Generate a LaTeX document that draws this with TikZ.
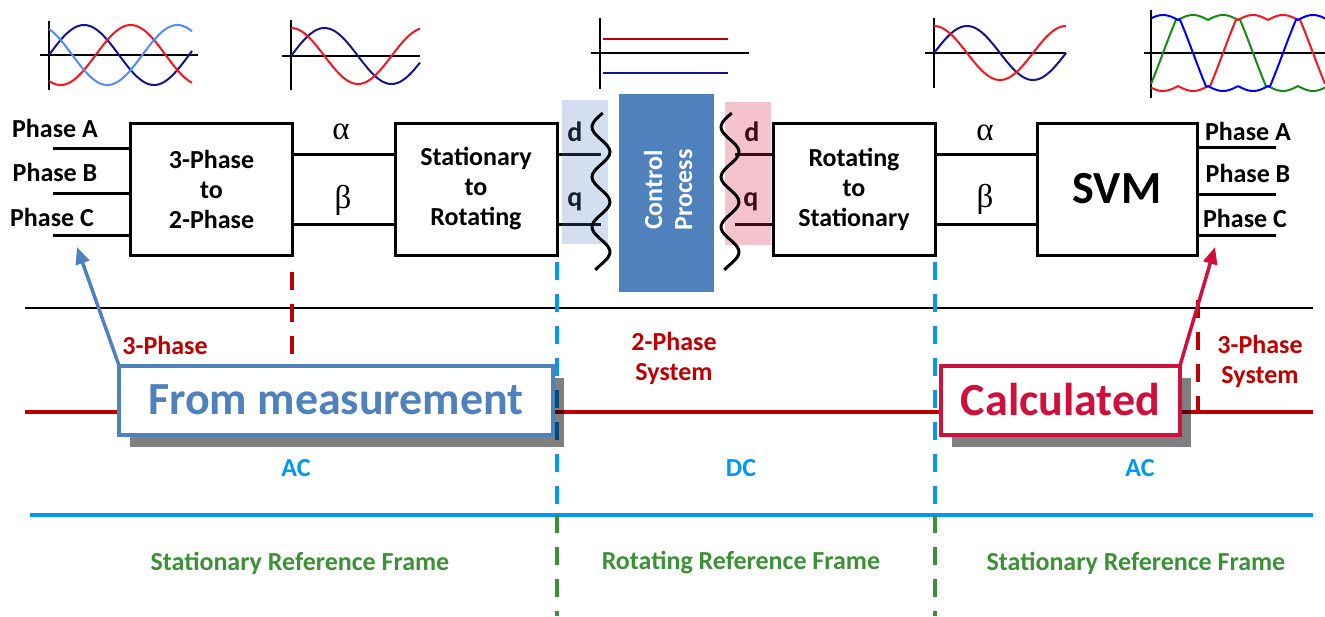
\documentclass[tikz,border=0pt]{standalone}
\usepackage{fontspec}
\setmainfont{Carlito}
\newfontfamily\grkfont{Liberation Serif}
\usetikzlibrary{arrows.meta,shadows}

\definecolor{measblue}{RGB}{79,129,189}
\definecolor{calcred}{RGB}{208,16,60}
\definecolor{sysred}{RGB}{192,0,0}
\definecolor{acblue}{RGB}{0,153,240}
\definecolor{framegreen}{RGB}{60,145,55}
\definecolor{navywave}{RGB}{20,20,140}
\definecolor{lightwave}{RGB}{80,140,255}
\definecolor{redwave}{RGB}{250,20,30}
\definecolor{greenwave}{RGB}{20,140,20}
\definecolor{pinkfill}{RGB}{215,40,80}

\tikzset{
  blk/.style={draw, line width=3pt, outer sep=0pt, minimum width=162pt, minimum height=132pt, align=center, font=\fontsize{26}{30}\selectfont\bfseries},
  wire/.style={line width=3pt},
  lbl/.style={font=\fontsize{26}{30}\selectfont\bfseries, inner sep=0pt, align=center},
  greek/.style={font=\fontsize{33}{36}\grkfont, inner sep=0pt},
  axis/.style={line width=2.5pt},
  wave/.style={line width=2pt, smooth},
  svmwave/.style={line width=2pt},
  callout/.style={draw, line width=4pt, fill=white, outer sep=0pt, minimum height=69pt, font=\fontsize{46}{50}\selectfont\bfseries, drop shadow={shadow xshift=11pt, shadow yshift=-12pt, fill=black, opacity=0.5}},
  divider/.style={line width=3.5pt, dash pattern=on 18pt off 14pt},
}

\begin{document}
\begin{tikzpicture}[x=1pt, y=-1pt]
  \useasboundingbox (0,0) rectangle (1325,616);

  % waveforms on top
  \draw[axis] (49,21) -- (49,90);
  \draw[axis] (40,55) -- (198,55);
  \draw[wave, navywave] plot[domain=0:143, samples=60] ({49+\x},{55-30*sin(\x*2.5714)});
  \draw[wave, redwave] plot[domain=0:143, samples=60] ({49+\x},{55-30*sin(\x*2.5714-120)});
  \draw[wave, lightwave] plot[domain=0:143, samples=60] ({49+\x},{55-30*sin(\x*2.5714+120)});

  \draw[axis] (291,20) -- (291,90);
  \draw[axis] (282,56) -- (420,56);
  \draw[wave, navywave] plot[domain=0:129, samples=60] ({291+\x},{56-28*sin(\x*2.6866)});
  \draw[wave, redwave] plot[domain=0:129, samples=60] ({291+\x},{56-28*cos(\x*2.6866)});

  \draw[axis] (600,18) -- (600,89);
  \draw[axis] (591,53) -- (749,53);
  \draw[wave, sysred] (603,39) -- (728,39);
  \draw[wave, navywave] (603,73) -- (728,73);

  \draw[axis] (934,18) -- (934,88);
  \draw[axis] (925,53) -- (1066,53);
  \draw[wave, navywave] plot[domain=0:132, samples=60] ({934+\x},{53-27*sin(\x*2.7273)});
  \draw[wave, redwave] plot[domain=0:132, samples=60] ({934+\x},{53-27*cos(\x*2.7273)});

  \draw[axis] (1151,10) -- (1151,98);
  \draw[axis] (1144,53) -- (1325,53);
  \draw[svmwave, greenwave] plot[domain=1151:1325, samples=220] (\x,{53-38*max(-0.87-0.13*abs(cos(6*(\x-1163))), min(0.87+0.13*abs(cos(6*(\x-1163))), 2*sin(2*(\x-1163))))});
  \draw[svmwave, redwave] plot[domain=1151:1325, samples=220] (\x,{53-38*max(-0.87-0.13*abs(cos(6*(\x-1223))), min(0.87+0.13*abs(cos(6*(\x-1223))), 2*sin(2*(\x-1223))))});
  \draw[svmwave, blue] plot[domain=1151:1325, samples=220] (\x,{53-38*max(-0.87-0.13*abs(cos(6*(\x-1283))), min(0.87+0.13*abs(cos(6*(\x-1283))), 2*sin(2*(\x-1283))))});

  % blocks
  \node[blk] (tp) at (211.5,189) {3-Phase\\to\\2-Phase};
  \node[blk] (sr) at (476,189) {Stationary\\to\\Rotating};
  \node[blk, fill=measblue, draw=none, minimum width=95pt, minimum height=198pt] (ctrl) at (666.5,193) {};
  \node[lbl, text=white, rotate=90] (ctrltxt) at (668,190) {Control\\Process};
  \node[blk] (rs) at (854,189) {Rotating\\to\\Stationary};
  \node[blk, minimum width=160pt, font=\fontsize{46}{50}\selectfont\bfseries] (svm) at (1117,189) {SVM};

  % phase inputs and outputs
  \node[lbl] (pa) at (55,128) {Phase A};
  \node[lbl] (pb) at (55,172) {Phase B};
  \node[lbl] (pc) at (52,217) {Phase C};
  \draw[wire] ([yshift=41pt]tp.west) -- ++(-78,0);
  \draw[wire] ([yshift=-4pt]tp.west) -- ++(-78,0);
  \draw[wire] ([yshift=-46pt]tp.west) -- ++(-78,0);
  \node[lbl] (oa) at (1248,131) {Phase A};
  \node[lbl] (ob) at (1248,173) {Phase B};
  \node[lbl] (oc) at (1245,218) {Phase C};
  \draw[wire] ([yshift=42pt]svm.east) -- ++(79,0);
  \draw[wire] ([yshift=-5pt]svm.east) -- ++(79,0);
  \draw[wire] ([yshift=-46pt]svm.east) -- ++(79,0);

  % alpha beta links
  \draw[wire] ([yshift=35pt]tp.east) -- ([yshift=35pt]sr.west);
  \draw[wire] ([yshift=-35pt]tp.east) -- ([yshift=-35pt]sr.west);
  \node[greek] (al1) at (341,132) {α};
  \node[greek] (be1) at (343,200) {β};
  \draw[wire] ([yshift=35pt]rs.east) -- ([yshift=35pt]svm.west);
  \draw[wire] ([yshift=-35pt]rs.east) -- ([yshift=-35pt]svm.west);
  \node[greek] (al2) at (985,133) {α};
  \node[greek] (be2) at (985,199) {β};

  % d q links
  \draw[wire] ([yshift=35pt]sr.east) -- ++(44,0);
  \draw[wire] ([yshift=-35pt]sr.east) -- ++(44,0);
  \draw[wire] ([yshift=35pt]rs.west) -- ++(-38,0);
  \draw[wire] ([yshift=-35pt]rs.west) -- ++(-38,0);
  \node[lbl, font=\fontsize{28}{30}\selectfont\bfseries] (d1) at (575,132) {d};
  \node[lbl, font=\fontsize{28}{30}\selectfont\bfseries] (q1) at (575,202) {q};
  \node[lbl, font=\fontsize{28}{30}\selectfont\bfseries] (d2) at (752,132) {d};
  \node[lbl, font=\fontsize{28}{30}\selectfont\bfseries] (q2) at (751,202) {q};
  \fill[measblue, opacity=0.25] (562,100) rectangle (608,244);
  \fill[pinkfill, opacity=0.28] (725,102) rectangle (771,245);
  \draw[wire, smooth] plot[domain=113:270, samples=50] ({601+9*sin((\x-113)*7.2+169)},\x);
  \draw[wire, smooth] plot[domain=113:270, samples=50] ({730+9*sin((\x-113)*7.2+169)},\x);

  % lower bands
  \draw[line width=2pt] (25,308) -- (1313,308);
  \draw[line width=3.5pt, sysred] (25,412) -- (1313,412);
  \draw[line width=4pt, acblue] (30,515) -- (1313,515);
  \draw[divider, sysred] (292,272) -- (292,360);
  \draw[divider, sysred] (1198,300) -- (1198,412);
  \draw[divider, acblue] (557,262) -- (557,515);
  \draw[divider, acblue] (935,262) -- (935,515);
  \draw[divider, framegreen] (557,515) -- (557,616);
  \draw[divider, framegreen] (935,515) -- (935,616);

  \node[lbl, text=sysred] (sys3a) at (165,345) {3-Phase};
  \node[lbl, text=sysred] (sys2) at (674,358) {2-Phase\\System};
  \node[lbl, text=sysred] (sys3b) at (1260,361) {3-Phase\\System};
  \node[lbl, text=acblue] (ac1) at (296,468) {AC};
  \node[lbl, text=acblue] (dc) at (741,468) {DC};
  \node[lbl, text=acblue] (ac2) at (1140,468) {AC};
  \node[lbl, text=framegreen] (fr1) at (300,563) {Stationary Reference Frame};
  \node[lbl, text=framegreen] (fr2) at (741,563) {Rotating Reference Frame};
  \node[lbl, text=framegreen] (fr3) at (1136,563) {Stationary Reference Frame};

  % callouts
  \node[callout, draw=measblue, text=measblue, minimum width=434pt] (meas) at (336,400) {From measurement};
  \node[callout, draw=calcred, text=calcred, minimum width=239pt] (calc) at (1060.5,400) {Calculated};
  \coordinate (tipa) at (77,247);
  \coordinate (tipb) at (1215,247);
  \draw[line width=3.5pt, measblue, -{Triangle[length=17pt,width=14pt]}] (meas.north west) -- (tipa);
  \draw[line width=3.5pt, calcred, -{Triangle[length=17pt,width=14pt]}] (calc.north east) -- (tipb);
\end{tikzpicture}
\end{document}
